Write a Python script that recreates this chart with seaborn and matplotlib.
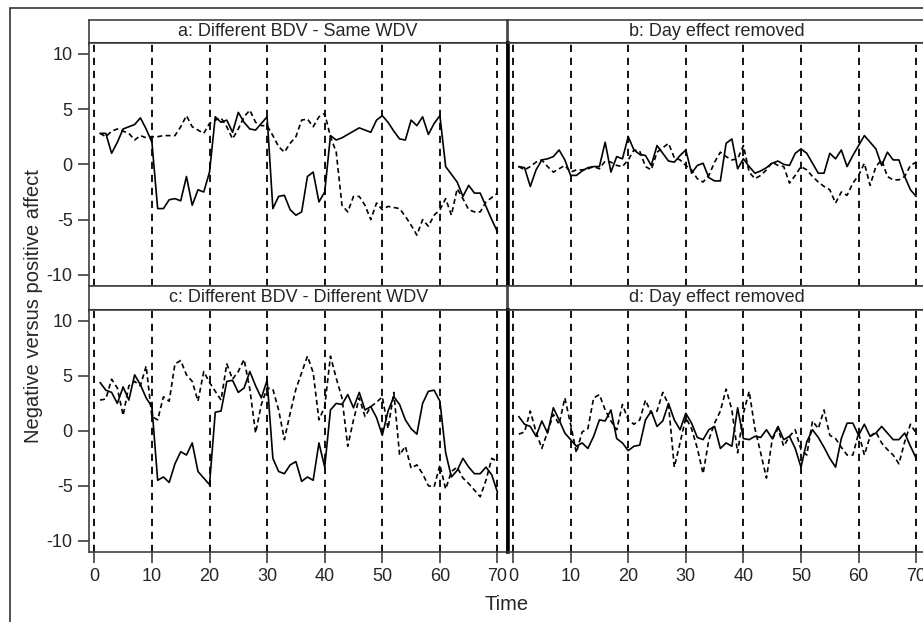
import matplotlib
matplotlib.use("Agg")
import numpy as np
import pandas as pd
import matplotlib.pyplot as plt
import seaborn as sns
from matplotlib.patches import Rectangle

# ====================== data ======================
time = list(range(1, 71))

a_solid = [2.8, 2.8, 1.0, 2.0, 3.2, 3.4, 3.6, 4.2, 3.2, 2.0,
           -4.0, -4.0, -3.2, -3.1, -3.3, -1.1, -3.7, -2.3, -2.5, -0.7,
           4.3, 3.8, 4.0, 2.9, 4.7, 3.8, 3.2, 3.1, 3.7, 4.3,
           -4.0, -2.9, -2.8, -4.1, -4.6, -4.3, -1.1, -0.7, -3.4, -2.5,
           2.6, 2.2, 2.4, 2.7, 3.0, 3.3, 3.1, 2.9, 4.0, 4.4,
           3.8, 3.0, 2.3, 2.2, 4.0, 3.5, 4.3, 2.7, 3.7, 4.4,
           -0.2, -0.9, -1.6, -2.9, -1.9, -2.6, -2.6, -3.8, -5.0, -6.1]
a_dashed = [2.8, 2.5, 3.0, 3.2, 3.0, 2.8, 2.2, 2.6, 2.4, 2.5,
            2.5, 2.6, 2.6, 2.6, 3.4, 4.4, 3.4, 3.1, 2.8, 3.7,
            4.0, 4.2, 3.4, 2.3, 3.2, 4.3, 4.9, 3.8, 3.5, 3.5,
            2.6, 1.6, 1.1, 1.9, 2.5, 4.0, 4.1, 3.4, 4.3, 4.6,
            2.5, 1.1, -3.7, -4.3, -2.9, -2.9, -3.7, -5.0, -3.5, -4.1,
            -3.8, -3.9, -4.0, -4.7, -5.5, -6.4, -5.0, -5.6, -4.6, -4.1,
            -3.1, -4.6, -2.2, -3.1, -4.1, -4.3, -4.3, -3.4, -3.0, -2.6]

b_solid = [-0.2, -0.3, -2.0, -0.5, 0.4, 0.5, 0.7, 1.3, 0.4, -1.0,
           -1.0, -0.6, -0.3, -0.2, -0.2, 2.0, -0.7, 0.7, 0.5, 2.5,
           1.3, 0.9, 0.8, -0.1, 1.7, 1.0, 0.3, 0.2, 0.8, 1.3,
           -0.8, -0.1, 0.1, -1.2, -1.5, -1.5, 1.9, 2.3, -0.4, 0.5,
           -0.2, -0.8, -0.6, -0.3, 0.1, 0.3, 0.0, -0.1, 1.0, 1.4,
           1.0, 0.1, -0.8, -0.8, 1.0, 0.5, 1.3, -0.2, 0.8, 1.7,
           2.6, 2.0, 1.4, -0.1, 1.1, 0.4, 0.4, -1.1, -2.3, -2.9]
b_dashed = [-0.2, -0.5, -0.2, 0.2, 0.4, -0.2, -0.7, -0.4, -0.1, -0.7,
            -0.5, -0.5, -0.4, -0.2, -0.4, 0.3, 0.2, -0.1, -0.2, 0.4,
            1.3, 1.2, -0.2, -0.5, 1.1, 1.5, 1.9, 0.6, 0.4, -0.1,
            -0.5, -1.3, -1.6, -1.0, 0.2, 1.1, 0.7, 0.4, 0.5, 1.7,
            -0.7, -1.3, -1.0, -0.5, 0.2, -0.1, -0.2, -1.7, -1.0, -0.2,
            -0.5, -1.1, -1.6, -2.0, -2.3, -3.5, -2.5, -2.8, -1.7, -1.0,
            0.1, -1.9, -0.2, 0.4, -1.1, -1.4, -1.4, -1.1, -0.1, 0.2]

c_solid = [4.4, 3.7, 3.5, 2.5, 4.0, 2.8, 5.1, 4.2, 3.0, 2.2,
           -4.5, -4.2, -4.7, -3.0, -1.9, -2.2, -1.1, -3.7, -4.3, -4.9,
           1.7, 1.8, 4.5, 4.6, 3.5, 3.9, 5.4, 4.1, 3.0, 4.6,
           -2.5, -3.7, -3.9, -3.1, -2.8, -4.6, -4.2, -4.5, -1.1, -3.3,
           1.9, 2.5, 2.4, 3.3, 2.1, 3.5, 1.9, 2.2, 1.2, -0.4,
           1.8, 3.1, 2.4, 1.0, 0.2, -0.3, 2.5, 3.6, 3.7, 2.7,
           -2.0, -4.2, -3.6, -2.5, -3.3, -3.9, -3.9, -3.3, -4.0, -5.6]
c_dashed = [2.8, 2.9, 4.7, 3.9, 1.4, 4.1, 4.5, 4.1, 5.9, 1.3,
            1.0, 3.1, 2.7, 6.1, 6.4, 5.1, 4.5, 2.7, 5.4, 4.4,
            3.6, 2.8, 6.1, 4.7, 5.4, 6.5, 3.8, -0.2, 2.4, 3.9,
            3.8, 1.9, -0.8, 1.6, 3.8, 5.3, 6.8, 5.3, 1.0, 2.2,
            6.8, 4.8, 3.0, -1.4, 1.0, 3.0, 1.3, 2.2, 2.6, 3.1,
            0.2, 3.5, -2.2, -1.4, -3.4, -3.1, -3.9, -5.0, -5.1, -3.1,
            -5.3, -3.7, -3.3, -4.3, -4.8, -5.4, -6.0, -4.5, -2.5, -2.8]

d_solid = [1.3, 0.6, 0.4, -0.5, 0.9, -0.2, 2.1, 1.0, -0.2, -0.8,
           -1.4, -1.1, -1.6, -0.5, 1.0, 0.9, 1.9, -0.7, -1.1, -1.8,
           -1.4, -1.3, 1.0, 1.8, 0.4, 0.9, 2.5, 1.0, 0.1, 1.6,
           0.7, -0.6, -0.8, 0.1, 0.4, -1.6, -1.1, -1.4, 2.1, -0.7,
           -0.8, -0.5, -0.6, 0.1, -0.7, 0.4, -0.8, -0.5, -1.6, -3.3,
           -1.0, 0.1, -0.6, -1.5, -2.5, -3.3, -0.7, 0.7, 0.7, -0.4,
           0.6, -0.5, -0.2, 0.4, -0.2, -0.8, -0.8, -0.2, -1.4, -2.5]
d_dashed = [-0.3, -0.1, 1.8, -0.1, -1.6, -0.1, 1.5, 0.6, 3.0, 0.6,
            -2.0, -0.1, 0.2, 3.0, 3.3, 1.9, 0.9, 0.1, 2.4, 1.0,
            0.6, 1.0, 2.8, 1.6, 1.8, 3.5, 2.4, -3.3, -1.1, 1.2,
            0.2, -1.6, -3.9, -0.8, 0.7, 1.8, 3.8, 1.9, -2.0, 1.6,
            3.6, 0.2, -2.0, -4.3, -0.8, 0.2, -1.4, -0.5, 0.1, -1.7,
            -2.2, 0.9, 0.2, 1.9, -0.4, -0.7, -1.5, -2.2, -2.2, -0.2,
            -2.2, -0.5, -0.1, -1.1, -1.7, -2.2, -3.0, -1.0, 0.6, -0.2]

panel_titles = ["a: Different BDV - Same WDV", "b: Day effect removed",
                "c: Different BDV - Different WDV", "d: Day effect removed"]
day_bounds = [0, 10, 20, 30, 40, 50, 60, 70]
y_ticks = [-10, -5, 0, 5, 10]

# ====================== style ======================
sns.set_style("ticks")
plt.rcParams["font.family"] = ["Liberation Sans", "DejaVu Sans"]
plt.rcParams["font.size"] = 13
plt.rcParams["axes.unicode_minus"] = False  # hyphen minus like the original

W, H = 923, 622
fig = plt.figure(figsize=(W / 100, H / 100), dpi=100)

# outer frame (cropped on right / bottom)
fig.patches.append(Rectangle((10 / W, -0.1), 1.2, 1.1 - 8 / H, transform=fig.transFigure,
                             fill=False, edgecolor="#333333", linewidth=1.2))

# pixel layout of the panels
left_x = [89.3, 508.0]
panel_w = 417.7
rows = [(20.0, 42.7, 286.0), (286.0, 310.0, 551.7)]   # header top, plot top, plot bottom

series = [(a_solid, a_dashed), (b_solid, b_dashed), (c_solid, c_dashed), (d_solid, d_dashed)]
spine_c = "#404040"

for k in range(4):
    r, c = divmod(k, 2)
    htop, ptop, pbot = rows[r]
    x0 = left_x[c]
    # header strip
    hax = fig.add_axes([x0 / W, 1 - ptop / H, panel_w / W, (ptop - htop) / H])
    hax.set_xticks([]); hax.set_yticks([])
    for s in hax.spines.values():
        s.set_visible(True); s.set_color(spine_c); s.set_linewidth(1.2)
    hax.spines["bottom"].set_color("black"); hax.spines["bottom"].set_linewidth(2.2)
    hax.text(0.5, 0.5, panel_titles[k], ha="center", va="center", fontsize=13,
             transform=hax.transAxes)

    ax = fig.add_axes([x0 / W, 1 - pbot / H, panel_w / W, (pbot - ptop) / H])
    solid, dashed = series[k]
    df = pd.DataFrame({"Time": time + time, "affect": solid + dashed,
                       "kind": ["solid"] * len(time) + ["dashed"] * len(time)})
    for b in day_bounds:
        ax.axvline(b, color="black", linewidth=1.3, linestyle=(0, (4, 3.2)), zorder=1)
    sns.lineplot(data=df, x="Time", y="affect", style="kind", color="black",
                 dashes={"solid": "", "dashed": (3, 2)}, estimator=None,
                 linewidth=1.2, legend=False, ax=ax, zorder=3)
    ax.set_xlim(-0.87, 71.65)
    ax.set_ylim(-11, 11)
    ax.set_xlabel(""); ax.set_ylabel("")
    for s in ax.spines.values():
        s.set_visible(True); s.set_color(spine_c); s.set_linewidth(1.2)
    ax.tick_params(direction="out", length=8, width=1.2, color=spine_c, labelsize=13, pad=4)
    if c == 0:
        ax.set_yticks(y_ticks)
    else:
        ax.set_yticks([])
        ax.spines["left"].set_color("black"); ax.spines["left"].set_linewidth(2.6)
    if r == 1:
        ax.set_xticks(day_bounds)
    else:
        ax.set_xticks([])

fig.text(507 / W, 1 - 605 / H, "Time", ha="center", va="center", fontsize=14.5)
fig.text(34 / W, 1 - 306 / H, "Negative versus positive affect", ha="center", va="center",
         rotation=90, fontsize=14.5)

fig.savefig("out.png", dpi=100)
